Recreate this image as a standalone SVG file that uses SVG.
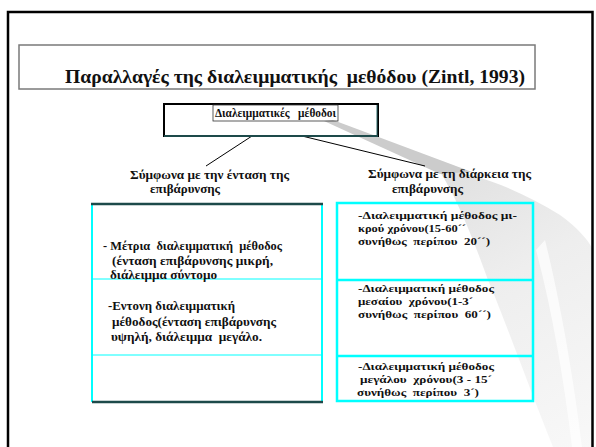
<svg xmlns="http://www.w3.org/2000/svg" width="596" height="447" viewBox="0 0 596 447">
<style>
  text { font-family: "Liberation Serif", "DejaVu Serif", "Noto Serif", serif; font-weight: bold; fill: #111; white-space: pre; }
  .t11 { font-size: 12.5px; }
  .t10 { font-size: 11px; }
  .cyan { stroke: #00ffff; fill: none; }
  .teal { stroke: #1d4a4a; fill: none; }
</style>
<defs>
  <linearGradient id="sh" x1="440" y1="170" x2="592" y2="447" gradientUnits="userSpaceOnUse">
    <stop offset="0" stop-color="#e0e0e0"/>
    <stop offset="0.4" stop-color="#eeeeee"/>
    <stop offset="1" stop-color="#f8f8f8"/>
  </linearGradient>
</defs>
<rect x="0" y="0" width="596" height="447" fill="#fff"/>
<!-- decorative shadow -->
<path d="M440,172 C 470,170 520,190 560,215 C 578,228 588,240 592,248 L592,447 L553,447 C 530,390 505,320 488,280 C 470,230 455,195 440,172 Z" fill="url(#sh)"/>
<path d="M545,240 C 560,300 574,380 582,447 L572,447 C 564,380 552,310 536,250 Z" fill="#ffffff" opacity="0.7"/>
<path d="M324,121 L333,120 L472,172 L440,174 Z" fill="#cccccc"/>
<!-- outer frame -->
<rect x="8" y="12" width="584.5" height="460" fill="none" stroke="#000" stroke-width="2.5"/>
<g id="title">
  <rect x="19" y="45" width="516" height="44" fill="none" stroke="#7a7a7a" stroke-width="1.5"/>
  <text x="65" y="83" font-size="19.5" textLength="460" lengthAdjust="spacingAndGlyphs">Παραλλαγές της διαλειμματικής  μεθόδου (Zintl, 1993)</text>
</g>
<g id="connectors" stroke="#000" stroke-width="1">
  <line x1="252" y1="136" x2="206" y2="166"/>
  <line x1="302" y1="136" x2="425" y2="166"/>
</g>
<g id="root">
  <rect x="164" y="104" width="214" height="32" fill="none" stroke="#000" stroke-width="2"/>
  <line x1="164" y1="136" x2="378" y2="136" stroke="#1d4a4a" stroke-width="2"/>
  <line x1="377" y1="105" x2="377" y2="135" stroke="#2a6a6a" stroke-width="1"/>
  <rect x="213" y="105" width="125" height="16" fill="none" stroke="#333" stroke-width="0.8"/>
  <text x="215" y="117" font-size="11.5" textLength="121" lengthAdjust="spacingAndGlyphs">Διαλειμματικές   μέθοδοι</text>
</g>
<g id="heading-left">
  <text class="t11" x="130" y="179" textLength="159" lengthAdjust="spacingAndGlyphs">Σύμφωνα με την ένταση της</text>
  <text class="t11" x="150" y="193" textLength="70" lengthAdjust="spacingAndGlyphs">επιβάρυνσης</text>
</g>
<g id="heading-right">
  <text class="t11" x="368" y="178" textLength="163" lengthAdjust="spacingAndGlyphs">Σύμφωνα με τη διάρκεια της</text>
  <text class="t11" x="392" y="193" textLength="71" lengthAdjust="spacingAndGlyphs">επιβάρυνσης</text>
</g>
<g id="left-table">
  <line class="cyan" x1="92" y1="204" x2="92" y2="402" stroke-width="2"/>
  <line class="cyan" x1="322" y1="204" x2="322" y2="402" stroke-width="2"/>
  <line class="cyan" x1="92" y1="279" x2="322" y2="279" stroke-width="1"/>
  <line class="cyan" x1="92" y1="355" x2="322" y2="355" stroke-width="1"/>
  <line class="teal" x1="91" y1="204" x2="323" y2="204" stroke-width="2.5"/>
  <line class="teal" x1="92" y1="402" x2="323" y2="402" stroke-width="2.5"/>
</g>
<g id="left-row-1">
  <text class="t11" x="103" y="250" textLength="179" lengthAdjust="spacingAndGlyphs">- Μέτρια  διαλειμματική  μέθοδος</text>
  <text class="t11" x="112" y="265" textLength="161" lengthAdjust="spacingAndGlyphs">(ένταση επιβάρυνσης μικρή,</text>
  <text class="t11" x="110" y="279" textLength="107" lengthAdjust="spacingAndGlyphs">διάλειμμα σύντομο</text>
</g>
<g id="left-row-2">
  <text class="t11" x="108" y="310" textLength="127" lengthAdjust="spacingAndGlyphs">-Εντονη διαλειμματική</text>
  <text class="t11" x="112" y="326" textLength="164" lengthAdjust="spacingAndGlyphs">μέθοδος(ένταση επιβάρυνσης</text>
  <text class="t11" x="111" y="341" textLength="151" lengthAdjust="spacingAndGlyphs">υψηλή, διάλειμμα  μεγάλο.</text>
</g>
<g id="right-table">
  <rect class="cyan" x="337" y="203" width="196" height="198" stroke-width="2.5"/>
  <line class="cyan" x1="337" y1="280" x2="533" y2="280" stroke-width="2.5"/>
  <line class="cyan" x1="337" y1="356" x2="533" y2="356" stroke-width="2.5"/>
</g>
<g id="right-row-1">
  <text class="t10" x="358" y="219" textLength="159" lengthAdjust="spacingAndGlyphs">-Διαλειμματική μέθοδος μι-</text>
  <text class="t10" x="358" y="232" textLength="108" lengthAdjust="spacingAndGlyphs">κρού χρόνου(15-60´´</text>
  <text class="t10" x="358" y="245" textLength="132" lengthAdjust="spacingAndGlyphs">συνήθως  περίπου  20´´)</text>
</g>
<g id="right-row-2">
  <text class="t10" x="358" y="292" textLength="136" lengthAdjust="spacingAndGlyphs">-Διαλειμματική μέθοδος</text>
  <text class="t10" x="358" y="305" textLength="115" lengthAdjust="spacingAndGlyphs">μεσαίου  χρόνου(1-3´</text>
  <text class="t10" x="358" y="318" textLength="133" lengthAdjust="spacingAndGlyphs">συνήθως  περίπου  60´´)</text>
</g>
<g id="right-row-3">
  <text class="t10" x="358" y="370" textLength="136" lengthAdjust="spacingAndGlyphs">-Διαλειμματική μέθοδος</text>
  <text class="t10" x="360" y="383" textLength="132" lengthAdjust="spacingAndGlyphs">μεγάλου  χρόνου(3 - 15´</text>
  <text class="t10" x="357" y="396" textLength="122" lengthAdjust="spacingAndGlyphs">συνήθως  περίπου  3´)</text>
</g>
</svg>
